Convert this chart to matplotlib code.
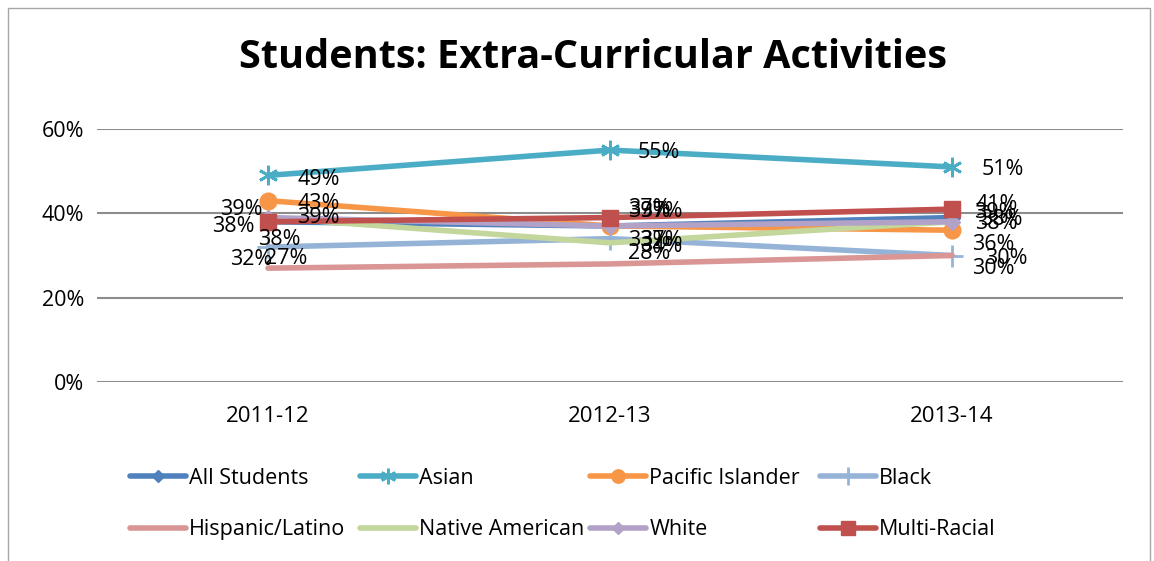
import matplotlib.pyplot as plt
from matplotlib.patches import Rectangle
from matplotlib.lines import Line2D

years = ['2011-12', '2012-13', '2013-14']

all_students = [38, 37, 39]
asian = [49, 55, 51]
pacific_islander = [43, 37, 36]
black = [32, 34, 30]
hispanic = [27, 28, 30]
native_american = [39, 33, 38]
white = [39, 37, 38]
multi_racial = [38, 39, 41]

series_names = ['All Students', 'Asian', 'Pacific Islander', 'Black',
                'Hispanic/Latino', 'Native American', 'White', 'Multi-Racial']
series_values = [all_students, asian, pacific_islander, black,
                 hispanic, native_american, white, multi_racial]

# style per series: colour, marker, marker size
styles = {
    'All Students': ('#4F81BD', 'D', 8),
    'Asian': ('#4BACC6', (6, 2, 0), 14),
    'Pacific Islander': ('#F79646', 'o', 12),
    'Black': ('#95B3D7', '+', 16),
    'Hispanic/Latino': ('#D99694', None, 0),
    'Native American': ('#C3D69B', None, 0),
    'White': ('#B3A2C7', 'D', 8),
    'Multi-Racial': ('#C0504D', 's', 12),
}

# label offsets in pixels from the point (dx, dy, ha) - rough copy of excel placement
label_pos = {
    'All Students': [(-10, -18, 'left'), (30, -15, 'left'), (22, 5, 'left')],
    'Asian': [(29, -4, 'left'), (28, -2, 'left'), (30, -3, 'left')],
    'Pacific Islander': [(29, -3, 'left'), (18, 17, 'left'), (20, -14, 'left')],
    'Black': [(4, -12, 'right'), (30, -8, 'left'), (33, -3, 'left')],
    'Hispanic/Latino': [(-3, 10, 'left'), (18, 10, 'left'), (20, -13, 'left')],
    'Native American': [(29, 0, 'left'), (18, 2, 'left'), (23, -2, 'left')],
    'White': [(-5, 8, 'right'), (30, 14, 'left'), (28, 2, 'left')],
    'Multi-Racial': [(-13, -5, 'right'), (18, 6, 'left'), (23, 5, 'left')],
}

plt.rcParams['font.family'] = ['Open Sans', 'DejaVu Sans']

fig = plt.figure(figsize=(11.54, 5.61), dpi=100)
ax = fig.add_axes([97 / 1154, 1 - 382 / 561, 1026 / 1154, 253 / 561])

x = list(range(len(years)))
for name, vals in zip(series_names, series_values):
    color, marker, ms = styles[name]
    mew = 2 if marker in ['+', (6, 2, 0)] else 1
    ax.plot(x, vals, color=color, linewidth=4, marker=marker, markersize=ms,
            markeredgewidth=mew, markeredgecolor=color, solid_capstyle='round')
    for i, v in enumerate(vals):
        dx, dy, ha = label_pos[name][i]
        ax.annotate(f'{v}%', (i, v), xytext=(dx, dy), textcoords='offset pixels',
                    ha=ha, va='center', fontsize=15.5, color='black')

ax.set_xlim(-0.5, 2.5)
ax.set_ylim(0, 60)
ax.set_yticks([0, 20, 40, 60])
ax.set_yticklabels(['0%', '20%', '40%', '60%'], fontsize=15.5)
ax.set_xticks(x)
ax.set_xticklabels(years, fontsize=16)
ax.tick_params(axis='x', length=0, pad=17)
ax.tick_params(axis='y', length=0, pad=9)
ax.grid(axis='y', color='#8C8C8C', linewidth=1.5)
ax.set_axisbelow(True)
for s in ax.spines.values():
    s.set_visible(False)

fig.text(593 / 1154, 1 - 57 / 561, 'Students: Extra-Curricular Activities',
         ha='center', va='center', fontsize=28.5, fontweight='bold')

# legend in 4 equal columns like excel
handles = []
for name in series_names:
    color, marker, ms = styles[name]
    mew = 2 if marker in ['+', (6, 2, 0)] else 1
    handles.append(Line2D([], [], color=color, linewidth=4, marker=marker,
                          markersize=ms * 0.8, markeredgewidth=mew,
                          markeredgecolor=color, solid_capstyle='round'))
col_x = [130, 360, 590, 820]
for c in range(4):
    idx = [c, c + 4]
    leg = fig.legend([handles[i] for i in idx], [series_names[i] for i in idx],
                     loc='upper left', bbox_to_anchor=(col_x[c] / 1154, 1 - 468 / 561),
                     frameon=False, fontsize=15.5, handlelength=2.6, handletextpad=0.15,
                     borderpad=0, borderaxespad=0, labelspacing=1.4)

fig.add_artist(Rectangle((8 / 1154, -0.1), 1142 / 1154, 1.1 - 8 / 561,
                         transform=fig.transFigure, fill=False,
                         edgecolor='#A6A6A6', linewidth=1))

fig.savefig('out.png', dpi=100)
